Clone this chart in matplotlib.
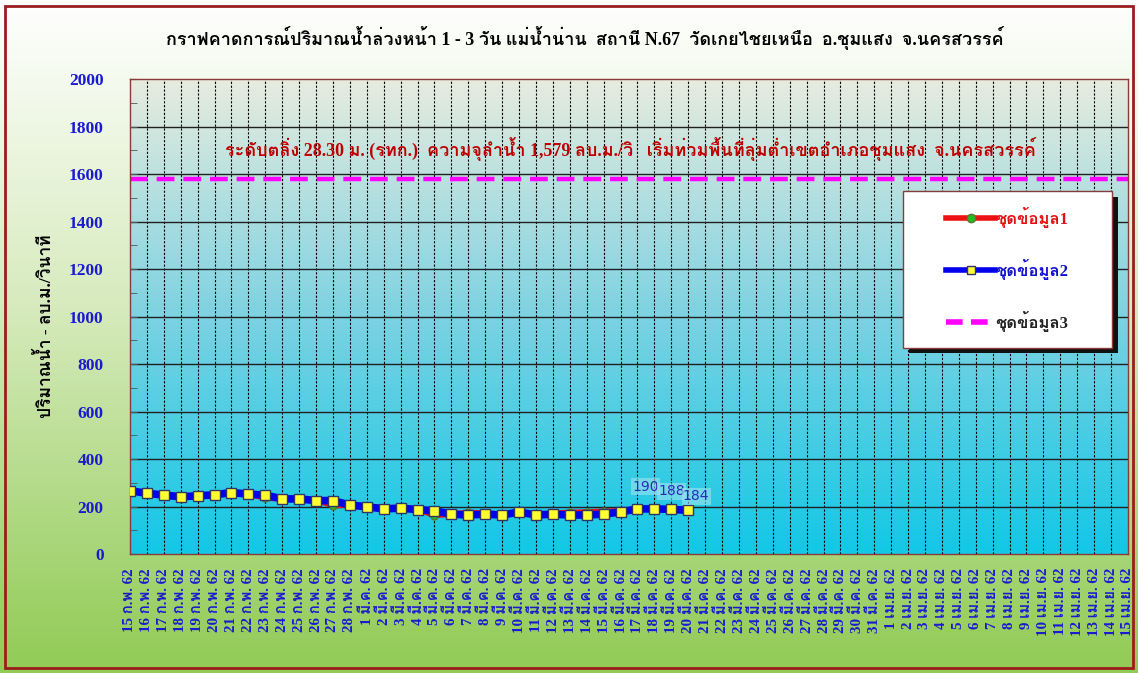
import numpy as np
import matplotlib
matplotlib.use('Agg')
import matplotlib.pyplot as plt
from matplotlib import font_manager
from matplotlib.ft2font import FT2Font
from matplotlib.patches import Rectangle
from matplotlib.lines import Line2D

# วันที่ (แกน x)
feb_days = list(range(15, 29))
mar_days = list(range(1, 32))
apr_days = list(range(1, 16))
labels = ([f"{d} ก.พ. 62" for d in feb_days] +
          [f"{d} มี.ค. 62" for d in mar_days] +
          [f"{d} เม.ย. 62" for d in apr_days])

# ชุดข้อมูล1 (ค่าตรวจวัด)
obs = [266, 254, 248, 245, 245, 253, 259, 252, 236, 232, 232, 228, 203, 207,
       202, 194, 196, 189, 162, 168, 175, 172, 168, 172, 166, 172, 175, 177,
       180, 182, 190]
# ชุดข้อมูล2 (ค่าคาดการณ์)
fcst = [266, 256, 248, 241, 245, 249, 259, 252, 248, 232, 232, 225, 225, 206,
        199, 190, 193, 187, 182, 168, 164, 168, 164, 177, 164, 168, 164, 164,
        168, 177, 190, 190, 188, 184]
# ชุดข้อมูล3 (ความจุลำน้ำ)
capacity = 1579

title = "กราฟคาดการณ์ปริมาณน้ำล่วงหน้า 1 - 3 วัน แม่น้ำน่าน  สถานี N.67  วัดเกยไชยเหนือ  อ.ชุมแสง  จ.นครสวรรค์"
note = "ระดับตลิ่ง 28.30 ม. (รทก.)  ความจุลำน้ำ 1,579 ลบ.ม./วิ   เริ่มท่วมพื้นที่ลุ่มต่ำเขตอำเภอชุมแสง  จ.นครสวรรค์"
ylab = "ปริมาณน้ำ - ลบ.ม./วินาที"

# หาฟอนต์ที่มีตัวอักษรไทย
thai = []
for f in font_manager.fontManager.ttflist:
    try:
        ft = FT2Font(f.fname)
        if ft.get_char_index(0x0E01) and ft.get_char_index(0x0E33):
            if f.name not in thai:
                thai.append(f.name)
    except Exception:
        pass

fam = ['Liberation Serif'] + thai + ['DejaVu Sans']
plt.rcParams['font.family'] = fam

fig = plt.figure(figsize=(11.38, 6.73), dpi=100)

# พื้นหลังรูป ไล่สีขาว -> เขียว
bg = fig.add_axes([0, 0, 1, 1], zorder=-10)
t = np.linspace(0, 1, 256)[:, None]
top = np.array([255, 255, 255]) / 255
mid = np.array([215, 235, 190]) / 255
bot = np.array([145, 203, 85]) / 255
col = np.where(t[..., None] < 0.45,
               top + (mid - top) * (t[..., None] / 0.45),
               mid + (bot - mid) * ((t[..., None] - 0.45) / 0.55))
bg.imshow(col, aspect='auto', extent=(0, 1, 0, 1), origin='upper')
bg.set_xlim(0, 1)
bg.set_ylim(0, 1)
bg.axis('off')
bg.add_patch(Rectangle((0.004, 0.007), 0.992, 0.984, fill=False,
                       edgecolor='#9b1c1c', lw=2))

ax = fig.add_axes([0.1142, 0.1768, 0.877, 0.7058])
n = len(labels)
x = np.arange(n)

# พื้นหลังแกน ไล่สี
s = np.linspace(0, 1, 256)[:, None]
c_top = np.array([232, 236, 222]) / 255
c_mid = np.array([125, 210, 226]) / 255
c_bot = np.array([18, 200, 230]) / 255
pcol = np.where(s[..., None] < 0.5,
                c_top + (c_mid - c_top) * (s[..., None] / 0.5),
                c_mid + (c_bot - c_mid) * ((s[..., None] - 0.5) / 0.5))
ax.imshow(pcol, aspect='auto', extent=(0, n - 1, 0, 2000), origin='upper', zorder=0)

ax.set_xlim(0, n - 1)
ax.set_ylim(0, 2000)

for xi in x[1:-1]:
    ax.axvline(xi, color='black', lw=0.8, ls=(0, (2, 1.5)), zorder=1)
for yv in range(200, 2000, 200):
    ax.axhline(yv, color='#202020', lw=1.0, zorder=1)

ax.plot(x[:len(obs)], obs, color='#ee1111', lw=4, marker='o', ms=5,
        mfc='#22bb22', mec='#557733', zorder=3)
ax.plot(x[:len(fcst)], fcst, color='#0000ee', lw=5.5, marker='s', ms=6.5,
        mfc='#ffff33', mec='#333366', mew=1, zorder=4)
ax.axhline(capacity, color='#ff00ff', lw=3.2, ls=(0, (4, 2)), zorder=2)

# ป้ายค่า 3 วันล่วงหน้า
offs = [(-9, 15), (0, 11), (8, 7)]
for k, (dx, dy) in zip(range(len(fcst) - 3, len(fcst)), offs):
    ax.annotate(str(fcst[k]), (x[k], fcst[k]), xytext=(dx, dy),
                textcoords='offset pixels', ha='center', va='bottom',
                fontsize=10, color='#2b2bb8', family=['DejaVu Sans'],
                bbox=dict(boxstyle='square,pad=0.1', fc='#9fe3ef', ec='none', alpha=0.6),
                zorder=6)

ax.text(29.6, 1705, note, ha='center', va='center', fontsize=13,
        color='#c00000', fontweight='bold', zorder=5)

ax.set_xticks(x)
ax.set_xticklabels(labels, rotation=90, fontsize=10.8, color='#1a1ad0',
                   fontweight='bold')
ax.set_yticks(range(0, 2001, 200))
ax.set_yticks(range(100, 2000, 200), minor=True)
ax.tick_params(axis='y', which='both', direction='in', length=5, colors='#555555',
               labelcolor='#1a1ad0', labelsize=12.5, pad=19)
ax.tick_params(axis='x', length=0, pad=10)
for lab in ax.get_yticklabels():
    lab.set_fontweight('bold')
for sp in ax.spines.values():
    sp.set_color('#8a3a3a')
    sp.set_linewidth(1)

fig.text(0.04, 0.515, ylab, rotation=90, ha='center', va='center',
         fontsize=12.5, fontweight='bold', color='black')
fig.text(0.514, 0.943, title, ha='center', va='center', fontsize=13,
         fontweight='bold', color='black')

# กรอบคำอธิบาย (พร้อมเงา)
lx, ly, lw_, lh = 0.7745, 0.4346, 0.2094, 0.329
ax.add_patch(Rectangle((lx + 0.006, ly - 0.012), lw_, lh, transform=ax.transAxes,
                       fc='#111111', ec='none', zorder=7))
ax.add_patch(Rectangle((lx, ly), lw_, lh, transform=ax.transAxes,
                       fc='white', ec='#8a3a3a', lw=1, zorder=7.5))

handles = [
    Line2D([], [], color='#ee1111', lw=4, marker='o', ms=6, mfc='#22bb22', mec='#557733'),
    Line2D([], [], color='#0000ee', lw=4, marker='s', ms=6, mfc='#ffff33', mec='#333366'),
    Line2D([], [], color='#ff00ff', lw=4, ls=(0, (3, 1.5))),
]
leg = ax.legend(handles, ['ชุดข้อมูล1', 'ชุดข้อมูล2', 'ชุดข้อมูล3'],
                loc='center', bbox_to_anchor=(lx, ly, lw_, lh),
                frameon=False,
                labelcolor=['#e01010', '#1010d0', '#202020'],
                prop={'weight': 'bold', 'size': 12}, handlelength=2.9,
                handletextpad=0.05, labelspacing=1.85, borderpad=0,
                borderaxespad=0)
leg.set_zorder(8)

fig.savefig('out.png', dpi=100)
